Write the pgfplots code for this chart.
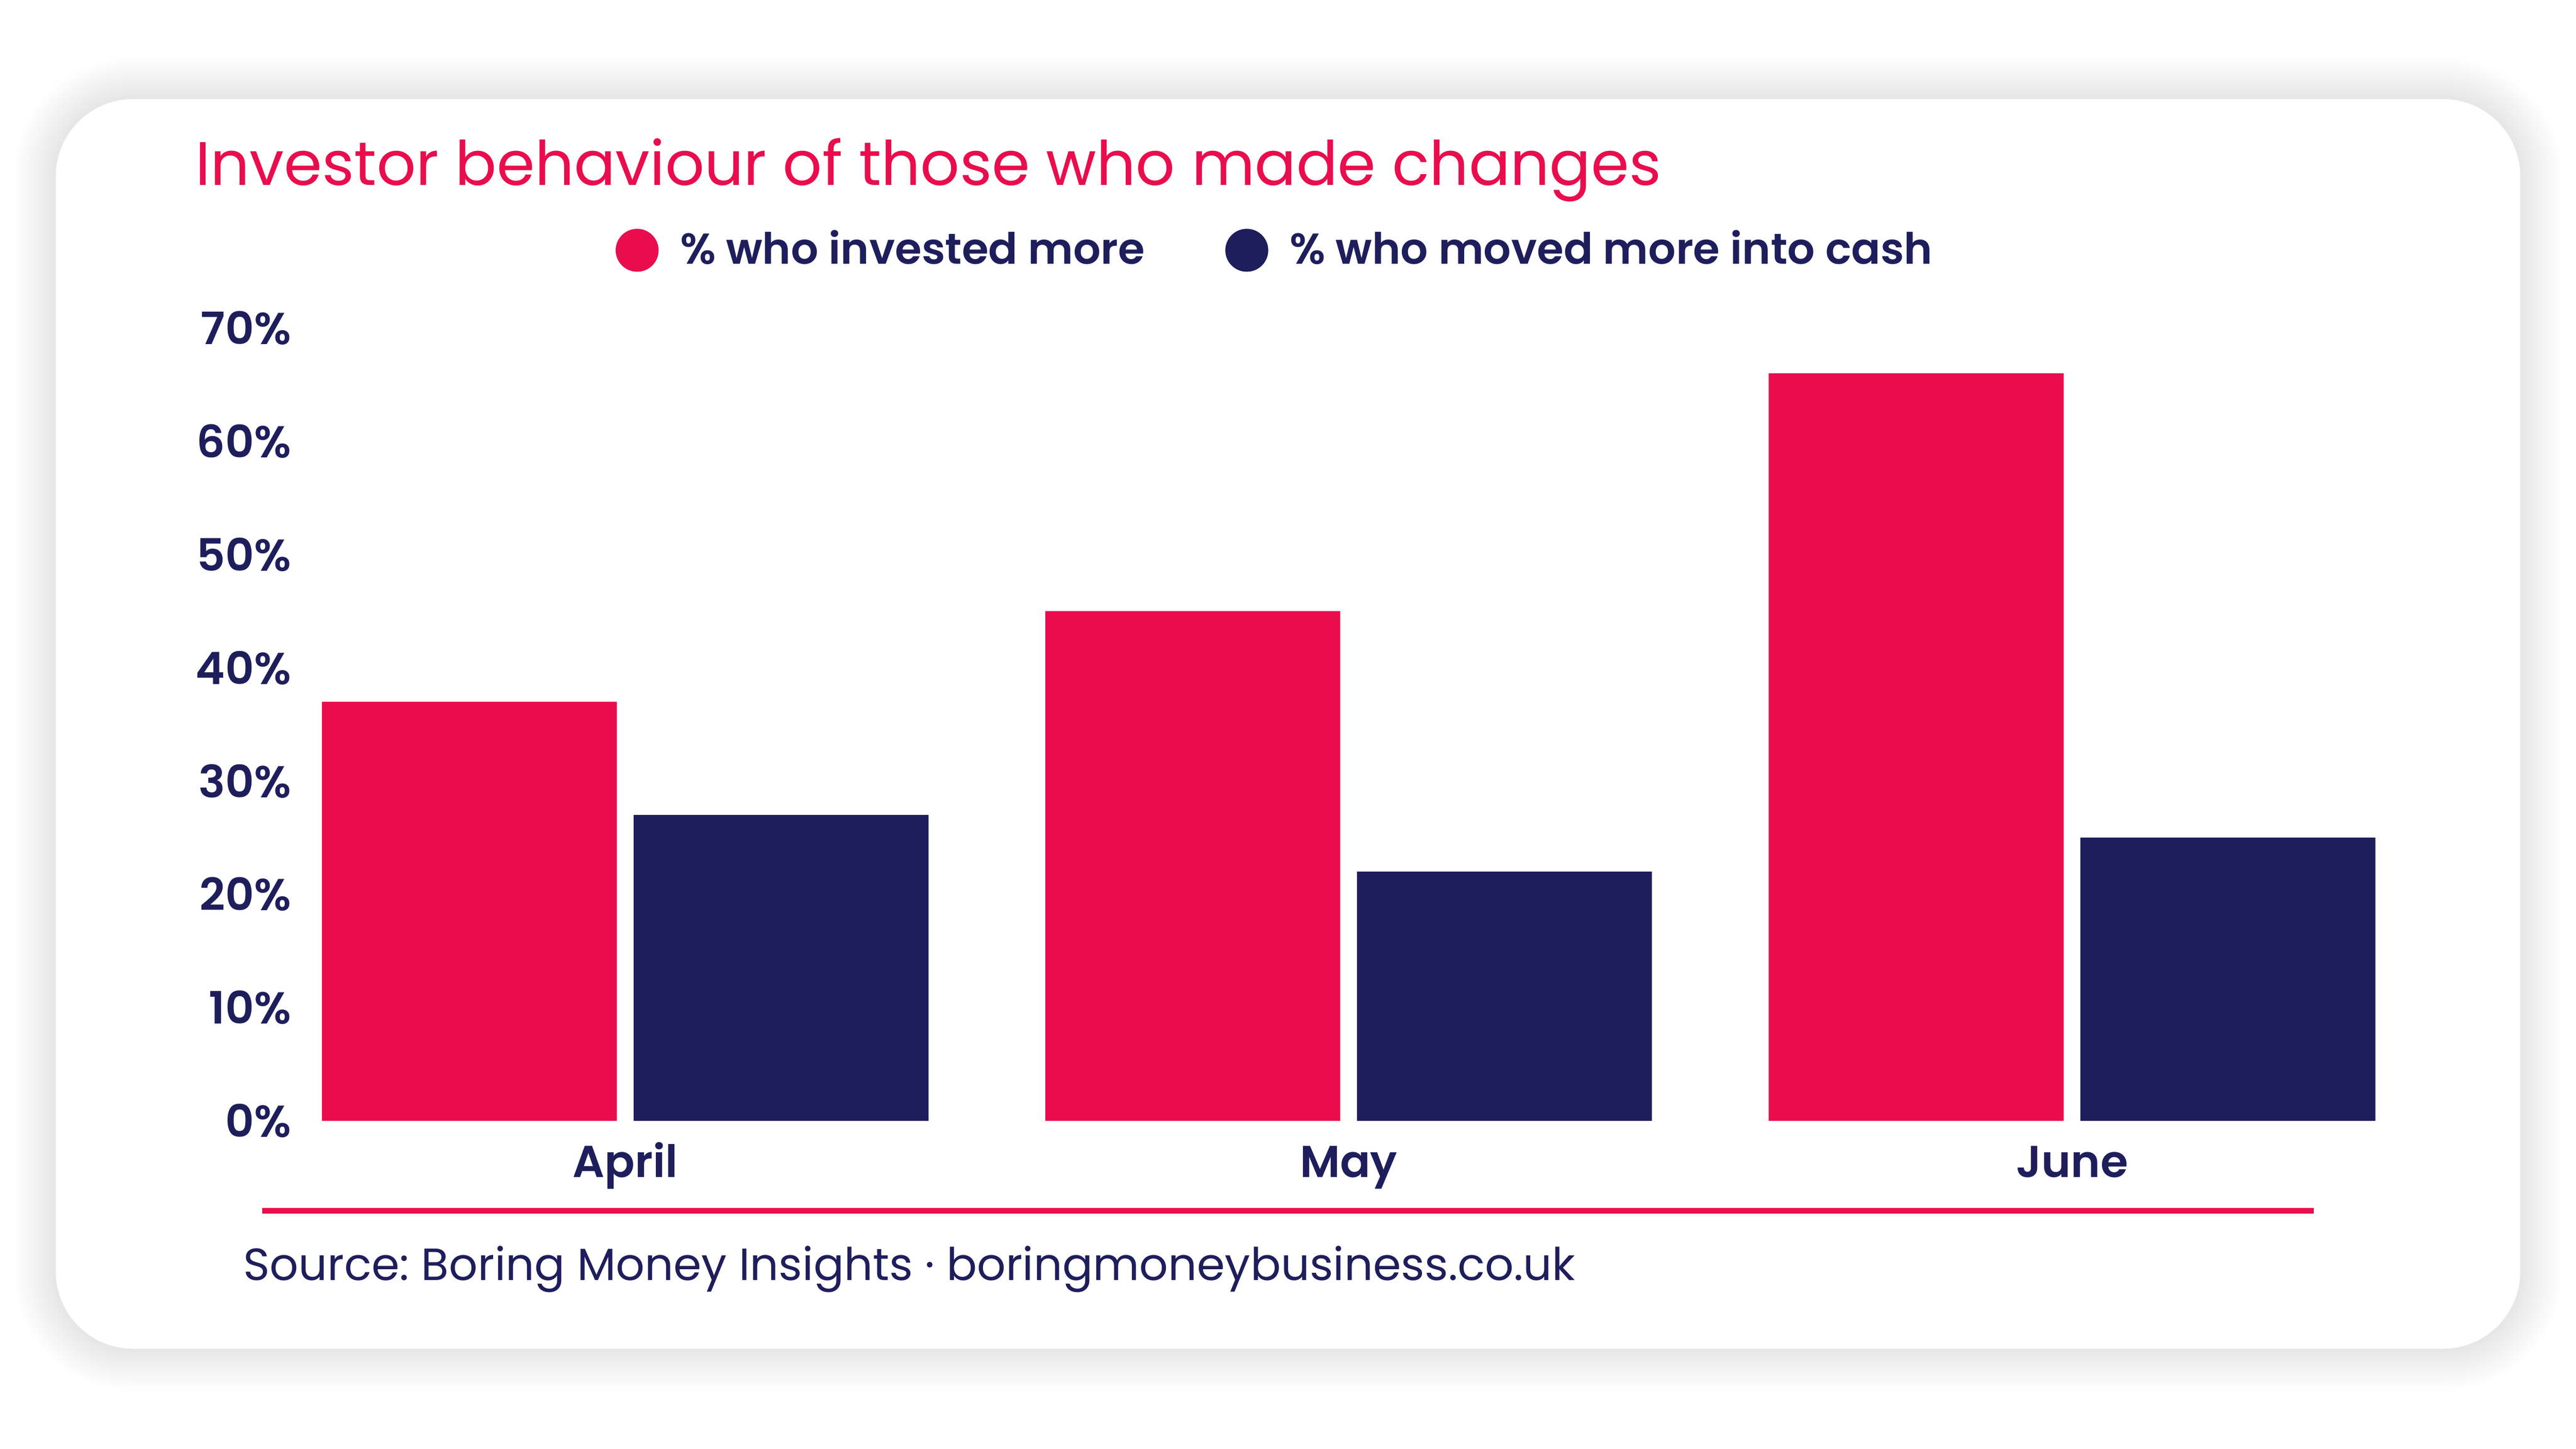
\documentclass[border=0pt]{standalone}
\usepackage{pgfplots}
\pgfplotsset{compat=1.18}
\usepackage{fontspec}
\setmainfont{Poppins}[BoldFont={Poppins SemiBold}]
\definecolor{bmred}{HTML}{E90D4D}
\definecolor{bmnavy}{HTML}{1F1E5C}
\frenchspacing
\begin{document}
\begin{tikzpicture}
\path[use as bounding box, fill=white] (0bp,0bp) rectangle (600bp,337.5bp);
% soft shadow of the card
\foreach \i in {1,...,12}{
  \fill[black, opacity=0.0075, rounded corners={18bp+\i*0.8bp}]
    ({13bp-\i*0.8bp},{23.3bp-\i*0.8bp}) rectangle ({587bp+\i*0.8bp},{314.4bp+\i*0.8bp});
}
\fill[white, rounded corners=18bp] (13bp,23.3bp) rectangle (587bp,314.4bp);
% title
\node[anchor=base west, inner sep=0pt, text=bmred, font=\fontsize{14.3bp}{17bp}\selectfont]
  at (45.3bp,294.3bp) {Investor behaviour of those who made changes};
\begin{axis}[
  at={(61.4bp,76.4bp)}, anchor=south west, scale only axis,
  width=505.45bp, height=184.7bp,
  xmin=-0.5, xmax=2.5, ymin=0, ymax=70,
  ybar=3.9bp, bar width=68.7bp,
  axis line style={draw=none}, tick style={draw=none}, major tick length=0pt,
  xtick={0,1,2}, xticklabels={April,May,June},
  ytick={0,10,20,30,40,50,60,70},
  yticklabels={0\%,10\%,20\%,30\%,40\%,50\%,60\%,70\%},
  xticklabel style={anchor=base, yshift=-13.2bp, inner sep=0pt,
    font=\bfseries\fontsize{10.4bp}{12bp}\selectfont, text=bmnavy},
  yticklabel style={anchor=east, xshift=6.6bp, inner sep=0pt,
    font=\bfseries\fontsize{10.4bp}{12bp}\selectfont, text=bmnavy},
  legend columns=2, legend cell align=left,
  legend style={at={(0.16223,1.098)}, anchor=west, draw=none, fill=none,
    inner sep=0pt, outer sep=0pt, column sep=0pt,
    nodes={inner sep=0pt, anchor=west, text=bmnavy,
      font=\bfseries\fontsize{10.05bp}{12bp}\selectfont},
    /tikz/every odd column/.append style={column sep=5.0bp},
    /tikz/every even column/.append style={column sep=18.7bp}},
  every axis plot post/.append style={
    legend image code/.code={\fill[##1] (0bp,0bp) circle (5bp);}},
]
\addplot[fill=bmred, draw=none] coordinates {(0,37) (1,45) (2,66)};
\addplot[fill=bmnavy, draw=none] coordinates {(0,27) (1,22) (2,25)};
\legend{\% who invested more, \% who moved more into cash}
\end{axis}
\draw[bmred, line width=1.3bp] (61.1bp,55.45bp) -- (538.9bp,55.45bp);
\node[anchor=base west, inner sep=0pt, text=bmnavy, font=\fontsize{10.5bp}{12bp}\selectfont]
  at (56.5bp,39.2bp) {Source: Boring Money Insights · boringmoneybusiness.co.uk};
\end{tikzpicture}
\end{document}
